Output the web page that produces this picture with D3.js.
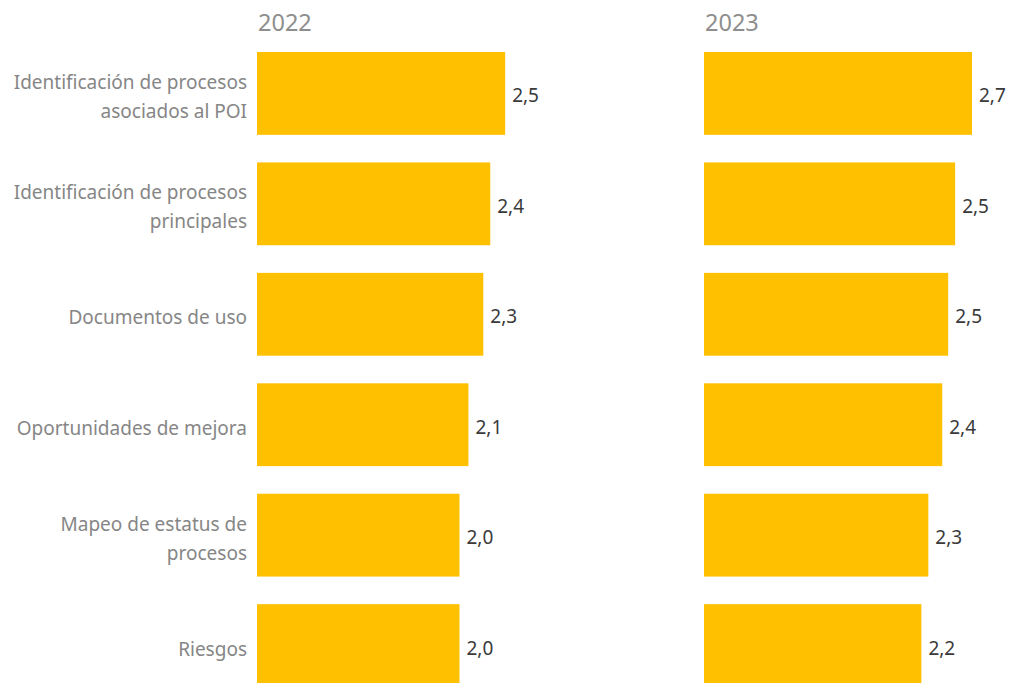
<!DOCTYPE html>
<html><head><meta charset="utf-8">
<script src="https://cdn.jsdelivr.net/npm/d3@7"></script>
<style>body{margin:0;background:#fff;} text{font-family:"Noto Sans",sans-serif;}</style>
</head><body>
<svg id="chart" width="1012" height="683"></svg>
<script>
const categories = [
  ["Identificación de procesos", "asociados al POI"],
  ["Identificación de procesos", "principales"],
  ["Documentos de uso"],
  ["Oportunidades de mejora"],
  ["Mapeo de estatus de", "procesos"],
  ["Riesgos"]
];
const years = ["2022", "2023"];
const values2022 = [2.50, 2.35, 2.28, 2.13, 2.04, 2.04];
const values2023 = [2.70, 2.53, 2.46, 2.40, 2.26, 2.19];
const seriesValues = [values2022, values2023];

const svg = d3.select("#chart");
const fmt = v => d3.format(".1f")(v).replace(".", ",");
const y = d3.scaleBand().domain(d3.range(categories.length)).range([52, 687]).paddingInner(0.25).paddingOuter(0);
const x = d3.scaleLinear().domain([0, 2.7]).range([0, 268]);
const panelX = d3.scalePoint().domain(years).range([257, 704]);

// category labels
const lab = svg.append("g");
categories.forEach((c, i) => {
  const cy = y(i) + y.bandwidth() / 2;
  const lh = 29;
  const t = lab.append("text").attr("text-anchor", "end").attr("fill", "#868686").attr("font-size", 19);
  c.forEach((line, k) => {
    t.append("tspan").attr("x", 247).attr("y", cy + 10 + (k - (c.length - 1) / 2) * lh).text(line);
  });
});

years.forEach((yr, s) => {
  const g = svg.append("g").attr("transform", `translate(${panelX(yr)},0)`);
  g.append("text").attr("x", 1).attr("y", 31).attr("fill", "#8e8e8e").attr("font-size", 23.5).text(yr);
  const vals = seriesValues[s];
  g.selectAll("rect").data(vals).join("rect")
    .attr("x", 0).attr("y", (d, i) => y(i)).attr("width", d => x(d)).attr("height", y.bandwidth())
    .attr("fill", "#FFC000");
  g.selectAll("text.v").data(vals).join("text").attr("class", "v")
    .attr("x", d => x(d) + 7).attr("y", (d, i) => y(i) + y.bandwidth() / 2 + 9)
    .attr("fill", "#3a3a3a").attr("font-size", 19).text(d => fmt(d));
});
</script>
</body></html>
